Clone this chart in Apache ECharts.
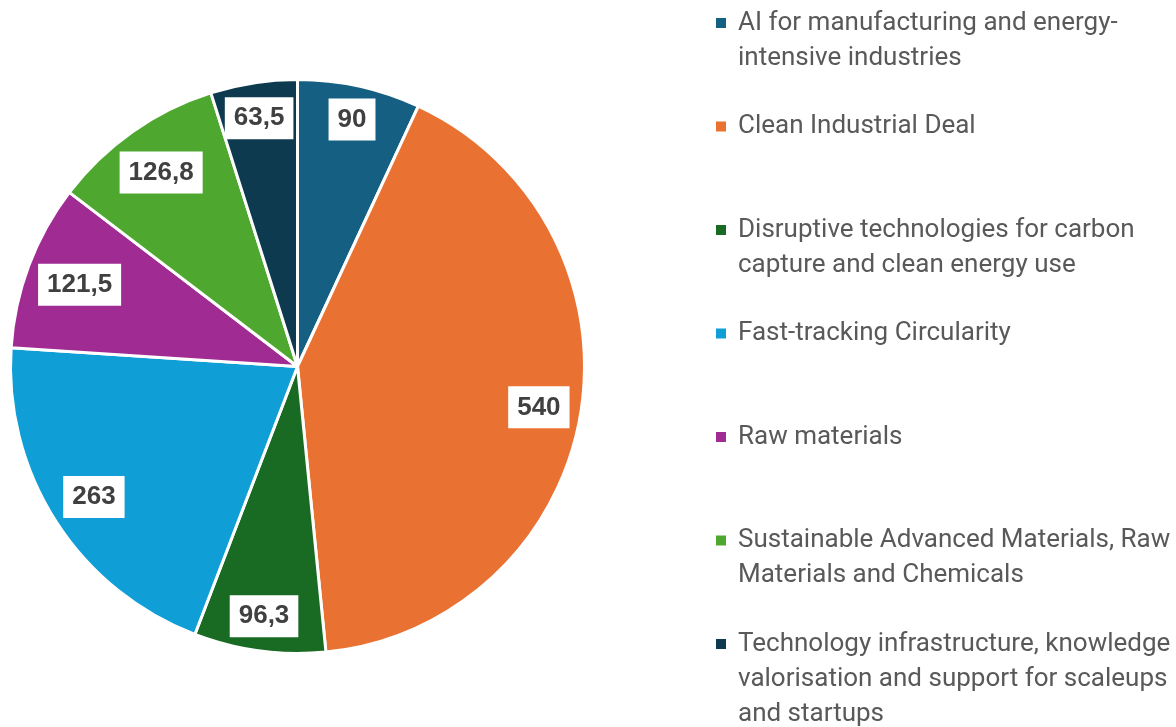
<!DOCTYPE html>
<html lang="en">
<head>
    <meta charset="UTF-8">
    <title>Pie chart</title>
    <script type="text/javascript" src="https://cdn.jsdelivr.net/npm/echarts@6/dist/echarts.min.js"></script>
    <style>
        html, body { margin: 0; padding: 0; background: #fff; }
    </style>
</head>
<body>
<div id="chart" style="width:1176px;height:727px;"></div>
<script type="text/javascript">
    // categories (line breaks = how the legend wraps them)
    var categories = [
        'AI for manufacturing and energy-\nintensive industries',
        'Clean Industrial Deal',
        'Disruptive technologies for carbon\ncapture and clean energy use',
        'Fast-tracking Circularity',
        'Raw materials',
        'Sustainable Advanced Materials, Raw\nMaterials and Chemicals',
        'Technology infrastructure, knowledge\nvalorisation and support for scaleups\nand startups'
    ];
    var values = [90, 540, 96.3, 263, 121.5, 126.8, 63.5];
    var colors = ['#156082', '#e97132', '#196b24', '#0f9ed5', '#a02b93', '#4ea72e', '#0d3a4e'];

    var pieData = categories.map(function (name, i) {
        return {name: name, value: values[i], itemStyle: {color: colors[i]}};
    });

    var CENTER = [297.5, 366.5];
    var RADIUS = 287;
    var LABEL_REACH = 279;   // farthest corner of a label box from the centre ("inside end")
    var LINE_H = 35;
    var ITEM_LINES = 5;

    var myChart = echarts.init(document.getElementById('chart'));
    var option = {
        animation: false,
        backgroundColor: '#ffffff',
        legend: {
            orient: 'vertical',
            left: 714,
            top: 23 - LINE_H * ITEM_LINES / 2,
            height: 1000,
            padding: 0,
            icon: 'rect',
            itemWidth: 12,
            itemHeight: 12,
            itemGap: 103.5 - LINE_H * ITEM_LINES,
            selectedMode: false,
            data: categories,
            // two blank lines first so the marker sits next to the first text line
            formatter: function (name) {
                var lines = ['', ''].concat(name.split('\n'));
                while (lines.length < ITEM_LINES) lines.push('');
                return lines.join('\n');
            },
            textStyle: {
                fontFamily: 'Roboto',
                fontSize: 26,
                lineHeight: LINE_H,
                color: '#595959',
                padding: [0, 0, 0, 6]
            }
        },
        series: [{
            type: 'pie',
            center: CENTER,
            radius: RADIUS,
            startAngle: 90,
            clockwise: true,
            itemStyle: {borderColor: '#ffffff', borderWidth: 3},
            emphasis: {disabled: true},
            labelLine: {show: false},
            label: {
                show: true,
                position: 'inside',
                fontFamily: 'Liberation Sans',
                fontWeight: 'bold',
                fontSize: 26,
                lineHeight: 26,
                color: '#404040',
                backgroundColor: '#ffffff',
                padding: [8, 9],
                formatter: function (p) {
                    return String(p.value).replace('.', ',');
                }
            },
            // push each label box outwards along its mid-angle until its outer corner nears the rim
            labelLayout: function (params) {
                var r = params.labelRect;
                var cx = r.x + r.width / 2, cy = r.y + r.height / 2;
                var dx = cx - CENTER[0], dy = cy - CENTER[1];
                var len = Math.sqrt(dx * dx + dy * dy) || 1;
                var ux = dx / len, uy = dy / len;
                var w = r.width / 2, h = r.height / 2;
                var b = Math.abs(ux) * w + Math.abs(uy) * h;
                var d = -b + Math.sqrt(b * b - (w * w + h * h - LABEL_REACH * LABEL_REACH));
                return {
                    x: CENTER[0] + ux * d,
                    y: CENTER[1] + uy * d,
                    align: 'center',
                    verticalAlign: 'middle'
                };
            },
            data: pieData
        }]
    };
    myChart.setOption(option);
</script>
</body>
</html>
